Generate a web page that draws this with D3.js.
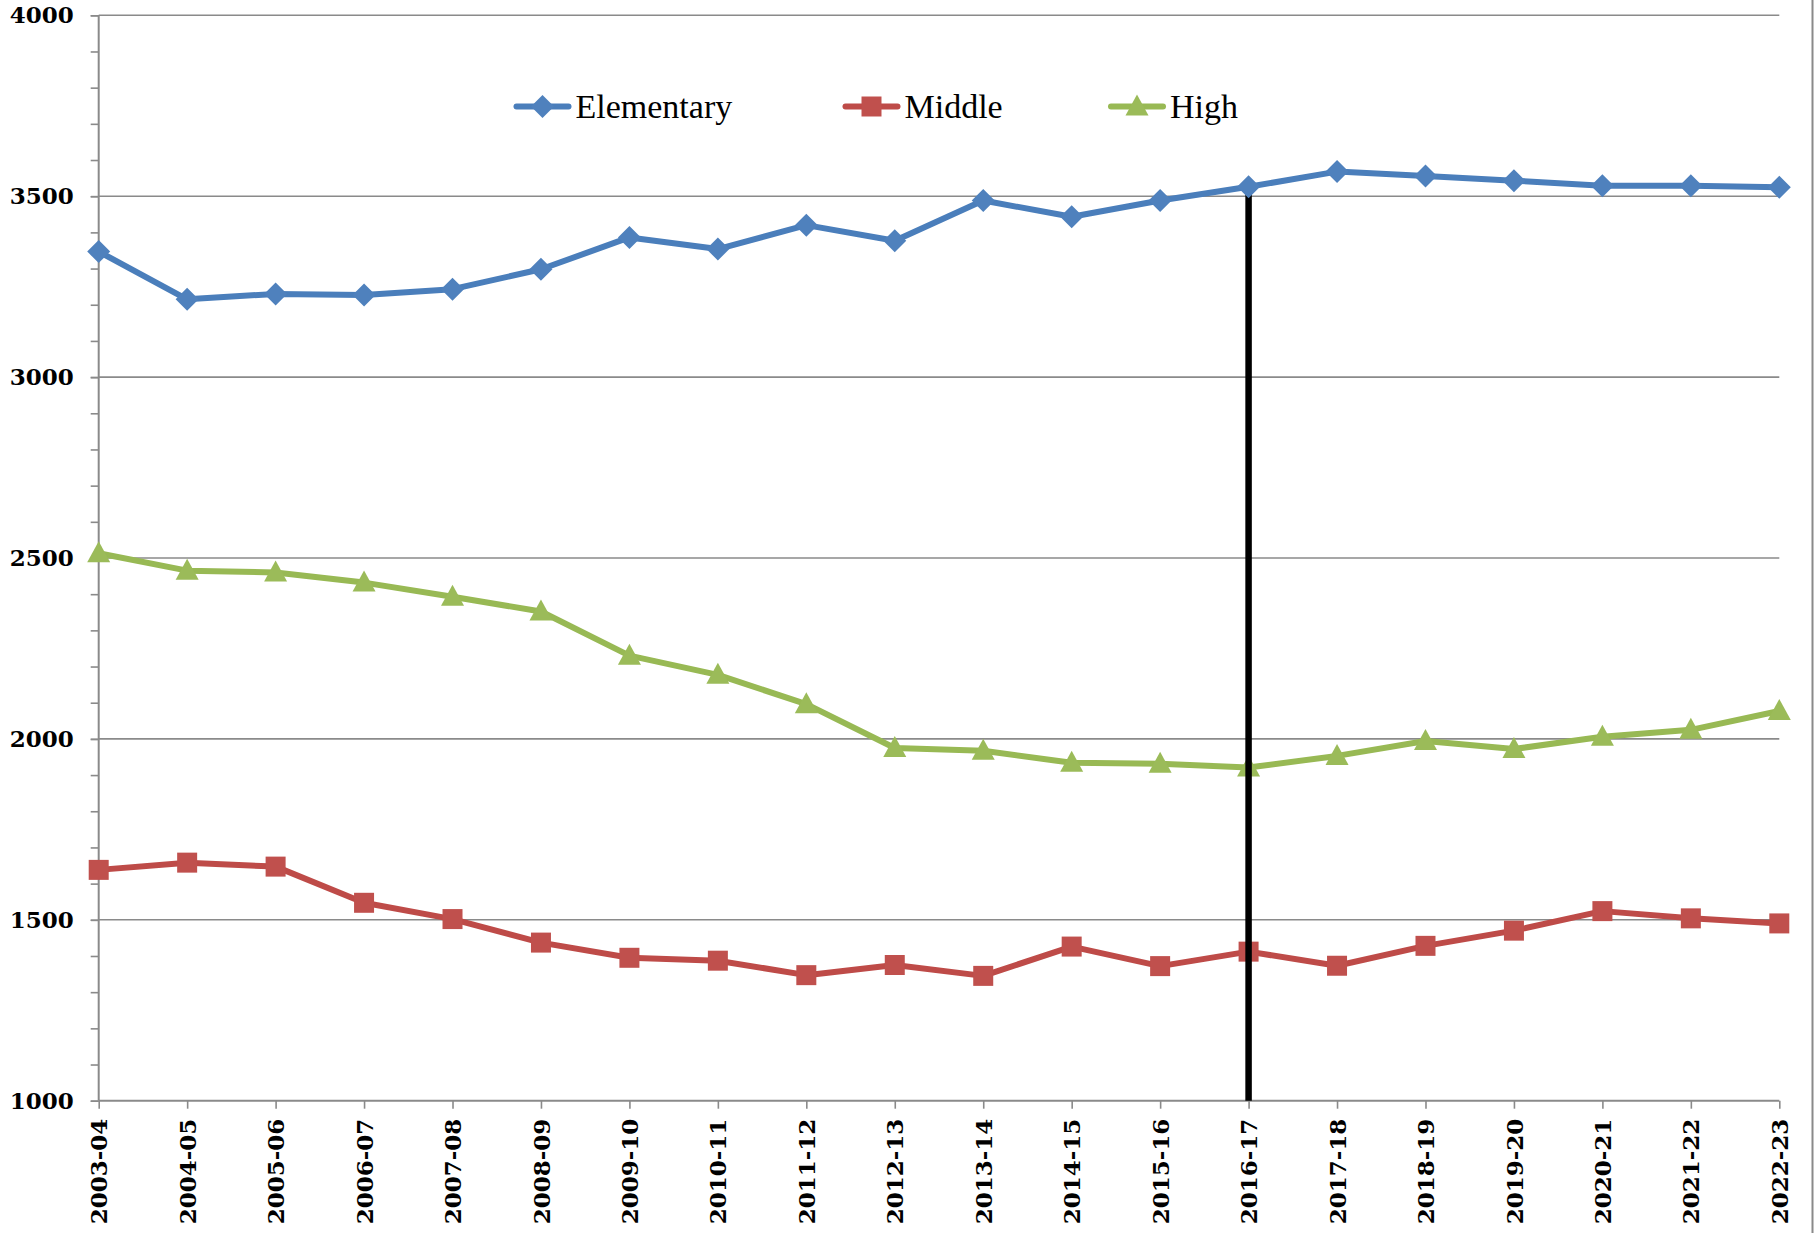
<!DOCTYPE html>
<html>
<head>
<meta charset="utf-8">
<script src="https://cdn.jsdelivr.net/npm/d3@7"></script>
<style>
  html, body { margin: 0; padding: 0; background: #fff; }
  svg { display: block; }
</style>
</head>
<body>
<svg id="chart" width="1814" height="1233"></svg>
<script>
// School-year categories along the x axis
const years = ["2003-04","2004-05","2005-06","2006-07","2007-08","2008-09","2009-10",
  "2010-11","2011-12","2012-13","2013-14","2014-15","2015-16","2016-17","2017-18",
  "2018-19","2019-20","2020-21","2021-22","2022-23"];

// Enrollment by school level
const elementary = [3347,3215,3230,3227,3243,3298,3386,3354,3420,3377,3488,3443,3488,3526,3568,3556,3543,3529,3529,3525];
const middle     = [1638,1658,1647,1547,1502,1437,1395,1387,1347,1375,1345,1426,1372,1412,1373,1428,1470,1524,1504,1490];
const high       = [2513,2465,2460,2432,2393,2352,2230,2177,2096,1975,1967,1934,1931,1921,1953,1994,1972,2006,2025,2077];

// Value axis ticks
const majorTicks = [1000,1500,2000,2500,3000,3500,4000];
const minorTicks = d3.range(1000, 4001, 100);

// Year marked by the vertical divider
const markerYear = "2016-17";

const seriesNames = ["Elementary","Middle","High"];

const svg = d3.select("#chart");
const plotLeft = 98.7, plotRight = 1779.3, plotTop = 15.3, plotBottom = 1100.7;
const axisColor = "#8a8a8a";

const x = d3.scalePoint().domain(years).range([plotLeft, plotRight]).padding(0);
const y = d3.scaleLinear().domain([1000, 4000]).range([plotBottom, plotTop]);

// Chart frame edge on the right
svg.append("line")
  .attr("x1", 1812.5).attr("x2", 1812.5).attr("y1", 0).attr("y2", 1233)
  .attr("stroke", axisColor).attr("stroke-width", 2);

// Horizontal gridlines
svg.append("g").selectAll("line")
  .data(majorTicks.filter(v => v > 1000))
  .join("line")
  .attr("x1", plotLeft).attr("x2", plotRight)
  .attr("y1", d => y(d)).attr("y2", d => y(d))
  .attr("stroke", axisColor).attr("stroke-width", 1.6);

// Y axis with minor and major ticks
const yAxisMinor = d3.axisLeft(y).tickValues(minorTicks).tickSize(8).tickFormat("");
svg.append("g").attr("transform", `translate(${plotLeft},0)`).call(yAxisMinor)
  .call(g => g.select(".domain").remove())
  .call(g => g.selectAll("line").attr("stroke", axisColor).attr("stroke-width", 1.6));

const yAxis = d3.axisLeft(y).tickValues(majorTicks).tickSize(8).tickPadding(17).tickFormat(d3.format("d"));
svg.append("g").attr("transform", `translate(${plotLeft},0)`).call(yAxis)
  .call(g => g.select(".domain").attr("stroke", axisColor).attr("stroke-width", 2).attr("d", `M0,${plotTop}V${plotBottom}`))
  .call(g => g.selectAll("line").attr("stroke", axisColor).attr("stroke-width", 1.6))
  .call(g => g.selectAll("text")
    .attr("font-family", "'DejaVu Serif', serif")
    .attr("font-weight", "bold")
    .attr("font-size", 23)
    .attr("fill", "#000"));

// X axis with rotated year labels
const xAxis = d3.axisBottom(x).tickSize(8).tickPadding(0);
svg.append("g").attr("transform", `translate(0,${plotBottom})`).call(xAxis)
  .call(g => g.select(".domain").attr("stroke", axisColor).attr("stroke-width", 2).attr("d", `M${plotLeft},0H${plotRight}`))
  .call(g => g.selectAll("line").attr("stroke", axisColor).attr("stroke-width", 1.6))
  .call(g => g.selectAll("text")
    .attr("font-family", "'DejaVu Serif', serif")
    .attr("font-weight", "bold")
    .attr("font-size", 23)
    .attr("fill", "#000")
    .attr("text-anchor", "end")
    .attr("dy", "0.35em")
    .attr("transform", "translate(0,18) rotate(-90)")
    .attr("x", 0).attr("y", 0));

// Marker shapes
const shapes = {
  diamond: "M0,-11.5L11.5,0L0,11.5L-11.5,0Z",
  square: "M-10,-10H10V10H-10Z",
  triangle: "M0,-12L11.5,9H-11.5Z"
};

const series = [
  { name: seriesNames[1], values: middle, line: "#BE4B48", fill: "#C0504D", shape: shapes.square },
  { name: seriesNames[2], values: high, line: "#98B954", fill: "#9BBB59", shape: shapes.triangle },
  { name: seriesNames[0], values: elementary, line: "#4A7EBB", fill: "#4F81BD", shape: shapes.diamond }
];

const lineGen = d3.line().x((d, i) => x(years[i])).y(d => y(d));

function drawSeries(s) {
  const g = svg.append("g");
  g.append("path").datum(s.values)
    .attr("d", lineGen)
    .attr("fill", "none")
    .attr("stroke", s.line)
    .attr("stroke-width", 6)
    .attr("stroke-linejoin", "round");
  g.selectAll("path.m").data(s.values).join("path")
    .attr("class", "m")
    .attr("d", s.shape)
    .attr("transform", (d, i) => `translate(${x(years[i])},${y(d)})`)
    .attr("fill", s.fill);
}

drawSeries(series[0]);
drawSeries(series[1]);

// Vertical divider from the elementary value down to the axis
const mi = years.indexOf(markerYear);
svg.append("line")
  .attr("x1", x(markerYear)).attr("x2", x(markerYear))
  .attr("y1", y(elementary[mi])).attr("y2", y(1000))
  .attr("stroke", "#000").attr("stroke-width", 6.5);

drawSeries(series[2]);

// Legend
const legendItems = [
  { s: series[2], cx: 542.5 },
  { s: series[0], cx: 871.5 },
  { s: series[1], cx: 1137 }
];
const ly = 106.5;
const lg = svg.append("g");
legendItems.forEach(it => {
  lg.append("line")
    .attr("x1", it.cx - 26).attr("x2", it.cx + 26)
    .attr("y1", ly).attr("y2", ly)
    .attr("stroke", it.s.line).attr("stroke-width", 6).attr("stroke-linecap", "round");
  lg.append("path").attr("d", it.s.shape)
    .attr("transform", `translate(${it.cx},${ly})`)
    .attr("fill", it.s.fill);
  lg.append("text")
    .attr("x", it.cx + 33).attr("y", ly + 11)
    .attr("font-family", "'Liberation Serif', serif")
    .attr("font-size", 34)
    .attr("fill", "#000")
    .text(it.s.name);
});
</script>
</body>
</html>
